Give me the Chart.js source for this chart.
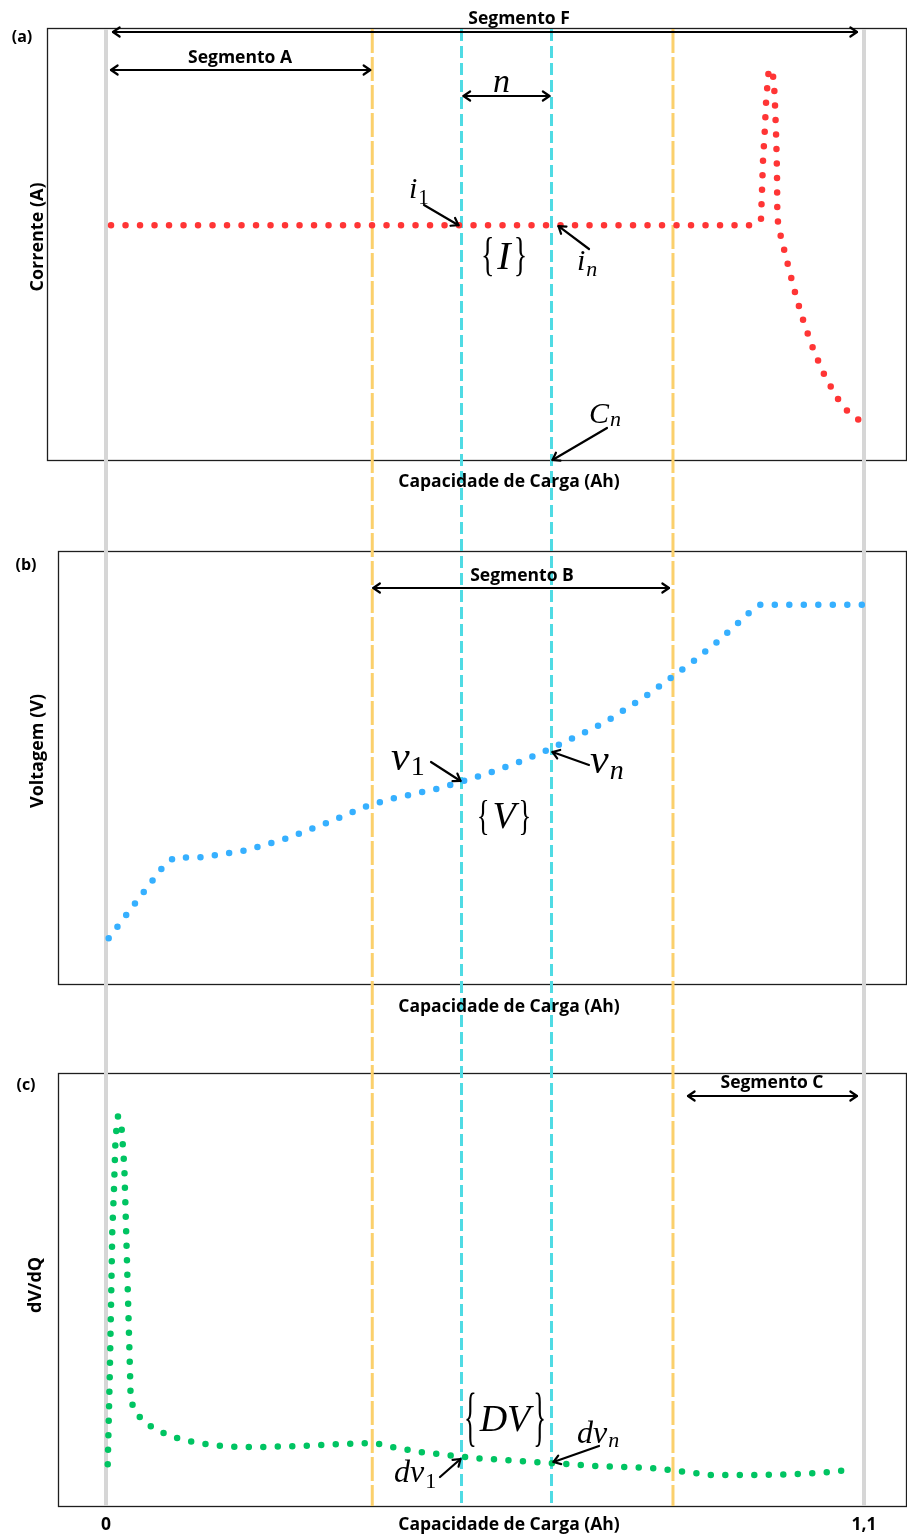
<!DOCTYPE html>
<html>
<head>
<meta charset="utf-8">
<script src="https://cdn.jsdelivr.net/npm/chart.js@4.4.1/dist/chart.umd.min.js"></script>
<style>
  html, body { margin: 0; padding: 0; background: #fff; }
  #wrap { position: relative; width: 907px; height: 1537px; }
  #wrap canvas { position: absolute; left: 0; top: 0; }
</style>
</head>
<body>
<div id="wrap">
  <canvas id="panelC" width="907" height="1537"></canvas>
  <canvas id="panelB" width="907" height="1537"></canvas>
  <canvas id="panelA" width="907" height="1537"></canvas>
</div>
<script>
// ---------- data ----------
// (a) current vs. charge capacity
const capacityA = [0.0073, 0.939, 0.9505, 0.952, 0.9534, 0.9559, 0.9578, 0.9611, 0.9665, 0.9694, 0.9713, 0.9727,
  0.9737, 0.9742, 0.9756, 0.9806, 0.9907, 1.0017, 1.0134, 1.0279, 1.0444, 1.0656, 1.0797, 1.0971];
const current = [1.00, 1.00, 1.026, 1.150, 1.273, 1.397, 1.520, 1.644, 1.667, 1.606, 1.482, 1.359,
  1.235, 1.052, 0.997, 0.937, 0.818, 0.694, 0.579, 0.460, 0.349, 0.243, 0.196, 0.162];

// (b) voltage vs. charge capacity
const capacityB = [0.0039, 0.0421, 0.0803, 0.0982, 0.1397, 0.2021, 0.2637, 0.3251, 0.3802, 0.4155, 0.4774, 0.5176,
  0.5577, 0.5979, 0.6361, 0.6744, 0.7130, 0.7304, 0.7836, 0.8175, 0.8518, 0.8848, 0.9161, 0.9312, 0.9486, 1.0971];
const voltage = [2.996, 3.122, 3.247, 3.288, 3.290, 3.314, 3.359, 3.419, 3.477, 3.502, 3.536, 3.565,
  3.597, 3.633, 3.673, 3.718, 3.765, 3.789, 3.874, 3.936, 3.999, 4.066, 4.136, 4.172, 4.205, 4.205];

// (c) dV/dQ vs. charge capacity
const capacityC = [0.0025, 0.0054, 0.0073, 0.0091, 0.0116, 0.0135, 0.0149, 0.0174, 0.0222, 0.0266, 0.0290, 0.0319,
  0.0348, 0.0358, 0.0416, 0.0556, 0.0736, 0.0929, 0.1128, 0.1335, 0.1756, 0.2235, 0.2815, 0.3396, 0.3686, 0.3918,
  0.4121, 0.4557, 0.4978, 0.5398, 0.6022, 0.6443, 0.7082, 0.7924, 0.8243, 0.8533, 0.8765, 0.9491, 1.0071, 1.0506, 1.0840];
const dvdq = [0.417, 1.283, 2.013, 2.74, 3.173, 3.607, 3.753, 3.897, 3.823, 3.39, 2.81, 2.083,
  1.357, 1.067, 0.947, 0.837, 0.76, 0.70, 0.66, 0.63, 0.593, 0.59, 0.60, 0.62, 0.627, 0.627,
  0.593, 0.54, 0.507, 0.477, 0.45, 0.43, 0.40, 0.38, 0.355, 0.33, 0.31, 0.31, 0.32, 0.34, 0.367];

// vertical guides (Ah)
const guideLimits = [0, 1.1];          // start / end of the charge
const guideSegmentB = [0.3864, 0.8228]; // bounds of Segmento B
const guideWindow = [0.5159, 0.6465];   // window of n samples

// x tick labels
const tickValues = [0, 1.1];
const tickLabels = ['0', '1,1'];

// ---------- layout ----------
const W = 907, H = 1537;
const PX_PER_AH = 758 / 1.1, X0_PX = 106;
const pxToAh = p => (p - X0_PX) / PX_PER_AH;
const PANEL = {
  a: { left: 47, top: 28, right: 906, bottom: 460 },
  b: { left: 58, top: 551, right: 906, bottom: 984 },
  c: { left: 58, top: 1073, right: 906, bottom: 1506 }
};
const SANS = '"Open Sans", "Noto Sans", sans-serif';
const SERIF = '"Liberation Serif", "DejaVu Serif", serif';
const LABEL = 17.5, AXIS = 18, TAG = 16;

// ---------- drawing helpers ----------
function sansText(ctx, text, x, y, size, rot) {
  ctx.save();
  ctx.font = `700 ${size}px ${SANS}`;
  ctx.fillStyle = '#000';
  ctx.textAlign = 'center';
  ctx.textBaseline = 'middle';
  ctx.translate(x, y);
  if (rot) ctx.rotate(rot);
  ctx.fillText(text, 0, 0);
  ctx.restore();
}

// italic symbol with a subscript; x = left edge, y = baseline
function mathText(ctx, x, y, base, size, sub, subSize, subItalic, subDrop) {
  ctx.save();
  ctx.fillStyle = '#000';
  ctx.textAlign = 'left';
  ctx.textBaseline = 'alphabetic';
  ctx.font = `italic ${size}px ${SERIF}`;
  ctx.fillText(base, x, y);
  const w = ctx.measureText(base).width;
  if (sub) {
    ctx.font = `${subItalic ? 'italic ' : ''}${subSize}px ${SERIF}`;
    ctx.fillText(sub, x + w + 1, y + subDrop);
  }
  ctx.restore();
}

// set notation {X} with stretched braces
function bracedText(ctx, cx, cy, body, size, braceH) {
  ctx.save();
  ctx.fillStyle = '#000';
  ctx.textBaseline = 'middle';
  ctx.textAlign = 'center';
  ctx.font = `italic ${size}px ${SERIF}`;
  const w = ctx.measureText(body).width;
  ctx.fillText(body, cx, cy);
  ctx.font = `${size}px ${SERIF}`;
  const bw = ctx.measureText('{').width * 0.7;
  const k = braceH / (size * 0.95);
  [['{', cx - w / 2 - bw / 2 - 3], ['}', cx + w / 2 + bw / 2 + 3]].forEach(([ch, bx]) => {
    ctx.save();
    ctx.translate(bx, cy);
    ctx.scale(0.7, k);
    ctx.fillText(ch, 0, 0);
    ctx.restore();
  });
  ctx.restore();
}

function arrowHead(ctx, x, y, ang, len, spread) {
  ctx.beginPath();
  ctx.moveTo(x - len * Math.cos(ang - spread), y - len * Math.sin(ang - spread));
  ctx.lineTo(x, y);
  ctx.lineTo(x - len * Math.cos(ang + spread), y - len * Math.sin(ang + spread));
  ctx.stroke();
}

function arrow(ctx, x1, y1, x2, y2, both) {
  ctx.save();
  ctx.strokeStyle = '#000';
  ctx.lineWidth = 2.2;
  ctx.lineCap = 'round';
  ctx.lineJoin = 'round';
  ctx.beginPath();
  ctx.moveTo(x1, y1);
  ctx.lineTo(x2, y2);
  ctx.stroke();
  const a = Math.atan2(y2 - y1, x2 - x1);
  arrowHead(ctx, x2, y2, a, 8, 0.6);
  if (both) arrowHead(ctx, x1, y1, a + Math.PI, 8, 0.6);
  ctx.restore();
}

// ---------- chart factory ----------
function makeChart(id, panel, xs, ys, yMin, yMax, color, plugins) {
  return new Chart(document.getElementById(id), {
    type: 'line',
    data: {
      datasets: [{
        data: xs.map((x, i) => ({ x, y: ys[i] })),
        borderColor: color,
        borderWidth: 6.5,
        borderDash: [0, 14.5],
        borderCapStyle: 'round',
        borderJoinStyle: 'round',
        pointRadius: 0,
        fill: false,
        tension: 0
      }]
    },
    options: {
      responsive: false,
      animation: false,
      devicePixelRatio: 1,
      events: [],
      layout: { padding: { left: panel.left, top: panel.top, right: W - panel.right, bottom: H - panel.bottom } },
      plugins: { legend: { display: false }, tooltip: { enabled: false } },
      scales: {
        x: { type: 'linear', display: false, min: pxToAh(panel.left), max: pxToAh(panel.right) },
        y: { display: false, min: yMin, max: yMax }
      }
    },
    plugins: plugins
  });
}

// frames of all panels and the vertical guides through them
const guidesPlugin = {
  id: 'guides',
  beforeDatasetsDraw(chart) {
    const ctx = chart.ctx;
    const X = v => chart.scales.x.getPixelForValue(v);
    ctx.save();
    ctx.strokeStyle = '#1e1e1e';
    ctx.lineWidth = 1.3;
    Object.values(PANEL).forEach(p => {
      ctx.strokeRect(p.left + 0.5, p.top + 0.5, p.right - p.left, p.bottom - p.top);
    });
    const top = PANEL.a.top + 1, bottom = PANEL.c.bottom;
    const vline = (v, color, width, dash) => {
      ctx.beginPath();
      ctx.strokeStyle = color;
      ctx.lineWidth = width;
      ctx.setLineDash(dash);
      ctx.moveTo(X(v), top);
      ctx.lineTo(X(v), bottom);
      ctx.stroke();
    };
    guideLimits.forEach(v => vline(v, '#d6d6d6', 4, []));
    guideSegmentB.forEach(v => vline(v, '#fbd06c', 3, [24, 4]));
    guideWindow.forEach(v => vline(v, '#4fdbe4', 3, [12, 5]));
    ctx.restore();
  }
};

const notesA = {
  id: 'notesA',
  afterDraw(chart) {
    const ctx = chart.ctx;
    const X = v => chart.scales.x.getPixelForValue(v);
    const Y = v => chart.scales.y.getPixelForValue(v);
    sansText(ctx, '(a)', 22, 37, TAG);
    sansText(ctx, 'Corrente (A)', 38, 237, AXIS, -Math.PI / 2);
    sansText(ctx, 'Capacidade de Carga (Ah)', 509, 482, LABEL);

    sansText(ctx, 'Segmento F', 519, 19, LABEL);
    arrow(ctx, X(guideLimits[0]) + 7, 32, X(guideLimits[1]) - 7, 32, true);
    sansText(ctx, 'Segmento A', 240, 58, LABEL);
    arrow(ctx, X(guideLimits[0]) + 5, 70, X(guideSegmentB[0]) - 2, 70, true);

    mathText(ctx, 493, 92, 'n', 34);
    arrow(ctx, X(guideWindow[0]) + 2, 96, X(guideWindow[1]) - 2, 96, true);

    mathText(ctx, 409, 198, 'i', 30, '1', 21, false, 6);
    arrow(ctx, 424, 205, X(guideWindow[0]) - 3, Y(current[0]));
    mathText(ctx, 577, 270, 'i', 30, 'n', 22, true, 6);
    arrow(ctx, 589, 249, X(guideWindow[1]) + 7, Y(current[0]) + 1);
    bracedText(ctx, 504, 258, 'I', 40, 44);

    mathText(ctx, 589, 423, 'C', 30, 'n', 22, true, 3);
    arrow(ctx, 607, 428, X(guideWindow[1]) + 1, PANEL.a.bottom);
  }
};

const notesB = {
  id: 'notesB',
  afterDraw(chart) {
    const ctx = chart.ctx;
    const X = v => chart.scales.x.getPixelForValue(v);
    sansText(ctx, '(b)', 26, 565, TAG);
    sansText(ctx, 'Voltagem (V)', 38, 751, AXIS, -Math.PI / 2);
    sansText(ctx, 'Capacidade de Carga (Ah)', 509, 1007, LABEL);

    sansText(ctx, 'Segmento B', 522, 576, LABEL);
    arrow(ctx, X(guideSegmentB[0]) + 1, 588, X(guideSegmentB[1]) - 4, 588, true);

    mathText(ctx, 391, 770, 'v', 42, '1', 28, false, 5);
    arrow(ctx, 431, 762, X(guideWindow[0]) - 1, 781);
    mathText(ctx, 590, 773, 'v', 42, 'n', 28, true, 6);
    arrow(ctx, 589, 765, X(guideWindow[1]) + 1, 752);
    bracedText(ctx, 504, 818, 'V', 38, 40);
  }
};

const notesC = {
  id: 'notesC',
  afterDraw(chart) {
    const ctx = chart.ctx;
    const X = v => chart.scales.x.getPixelForValue(v);
    sansText(ctx, '(c)', 26, 1085, TAG);
    sansText(ctx, 'dV/dQ', 36, 1285, AXIS, -Math.PI / 2);
    sansText(ctx, 'Capacidade de Carga (Ah)', 509, 1525, LABEL);
    tickValues.forEach((v, i) => sansText(ctx, tickLabels[i], X(v), 1525, LABEL));

    sansText(ctx, 'Segmento C', 772, 1083, LABEL);
    arrow(ctx, X(guideSegmentB[1]) + 15, 1096, X(guideLimits[1]) - 7, 1096, true);

    bracedText(ctx, 505, 1421, 'DV', 38, 62);
    mathText(ctx, 394, 1482, 'dv', 32, '1', 22, false, 6);
    arrow(ctx, 440, 1477, X(guideWindow[0]) - 1, 1459);
    mathText(ctx, 577, 1443, 'dv', 32, 'n', 22, true, 4);
    arrow(ctx, 599, 1446, X(guideWindow[1]) + 2, 1462);
  }
};

makeChart('panelC', PANEL.c, capacityC, dvdq, 0, 4.33, '#00c462', [guidesPlugin, notesC]);
makeChart('panelB', PANEL.b, capacityB, voltage, 2.83, 4.40, '#36b0ff', [notesB]);
makeChart('panelA', PANEL.a, capacityA, current, 0, 1.84, '#ff3535', [notesA]);
</script>
</body>
</html>
